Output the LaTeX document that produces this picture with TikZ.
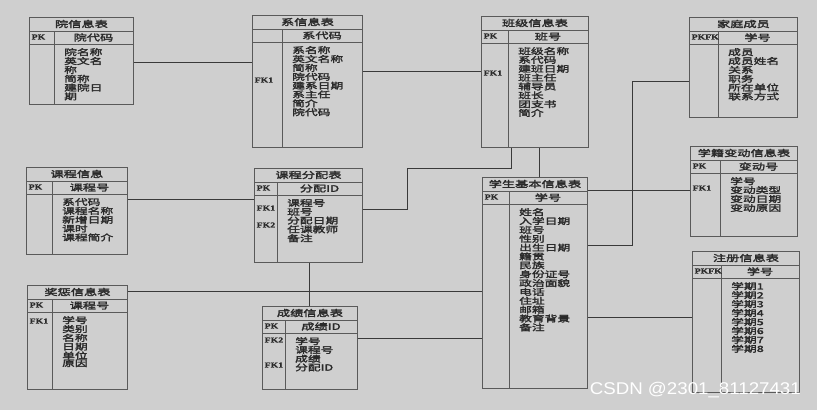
\documentclass[tikz,border=0pt]{standalone}
\usepackage{fontspec}
\setmainfont{Liberation Serif}
\newfontfamily\cjk{Noto Sans CJK SC}[FakeStretch=1.5,FakeBold=2.5]
\newfontfamily\lat{Liberation Serif}[FakeStretch=1.3,FakeBold=1.5]
\newfontfamily\wmfont{Liberation Sans}[FakeStretch=1.1]
\definecolor{bgc}{HTML}{CFCFCF}
\definecolor{boxc}{HTML}{5A5A5A}
\definecolor{linec}{HTML}{3A3A3A}
\definecolor{txtc}{HTML}{2A2A2A}
\tikzset{
  tbl/.style={draw=boxc, line width=0.9pt, rectangle, anchor=north west, inner sep=0pt},
  sep/.style={draw=boxc, line width=0.9pt},
  ttl/.style={font=\cjk\fontsize{8.8}{8.8}\selectfont, text=txtc, inner sep=0pt},
  fld/.style={font=\cjk\fontsize{8.5}{7.6}\selectfont, text=txtc, align=left, anchor=north west, inner sep=0pt},
  lbl/.style={font=\lat\bfseries\fontsize{7.5}{8}\selectfont, text=txtc, anchor=west, inner sep=0pt},
  ln/.style={draw=linec, line width=0.9pt},
  wm/.style={font=\wmfont\fontsize{17}{17}\selectfont, text=white, anchor=east, inner sep=0pt}
}
\newcommand\dbtable[9]{%
  \node[tbl, minimum width=#3pt, minimum height=#4pt] (#1) at (#2) {};
  \draw[sep] ([yshift=-14pt]#1.north west) -- ([yshift=-14pt]#1.north east);
  \draw[sep] ([yshift=-27pt]#1.north west) -- ([yshift=-27pt]#1.north east);
  \draw[sep] ([xshift=#5pt,yshift=-14pt]#1.north west) -- ([xshift=#5pt]#1.south west);
  \node[ttl] (#1-t) at ([yshift=-7pt]#1.north) {#6};
  \node[ttl] (#1-k) at ([xshift=#5pt/2+#3pt/2, yshift=-20.5pt]#1.north west) {#7};
  \foreach \l/\y in {#8}
    \node[lbl] (#1-\l) at ([xshift=2.5pt, yshift=-\y*1pt]#1.north west) {\l};
  \node[fld] (#1-f) at ([xshift=#5pt+10pt, yshift=-31pt]#1.north west) {#9};
}
\begin{document}
\begin{tikzpicture}[x=1pt, y=-1pt]
\fill[bgc] (0,0) rectangle (817,410);
\useasboundingbox (0,0) rectangle (817,410);

\dbtable{yuan}{29,17}{104}{87}{25}{院信息表}{院代码}{PK/20}
  {院名称\\英文名\\称\\简称\\建院日\\期}
\dbtable{xi}{252,15}{110}{132}{30}{系信息表}{系代码}{FK1/65}
  {系名称\\英文名称\\简称\\院代码\\建系日期\\系主任\\简介\\院代码}
\dbtable{banji}{481,16}{107}{131}{27}{班级信息表}{班号}{PK/20,FK1/57}
  {班级名称\\系代码\\建班日期\\班主任\\辅导员\\班长\\团支书\\简介}
\dbtable{jiating}{689,17}{108}{100}{29}{家庭成员}{学号}{PKFK/20}
  {成员\\成员姓名\\关系\\职务\\所在单位\\联系方式}
\dbtable{kecheng}{26,167}{101}{87}{26}{课程信息}{课程号}{PK/20}
  {系代码\\课程名称\\新增日期\\课时\\课程简介}
\dbtable{fenpei}{254,168}{108}{94}{23}{课程分配表}{分配ID}{PK/20,FK1/40,FK2/57}
  {课程号\\班号\\分配日期\\任课教师\\备注}
\dbtable{xuesheng}{482,177}{105}{211}{27}{学生基本信息表}{学号}{PK/20}
  {姓名\\入学日期\\班号\\性别\\出生日期\\籍贯\\民族\\身份证号\\政治面貌\\电话\\住址\\邮箱\\教育背景\\备注}
\dbtable{xueji}{690,146}{107}{90}{30}{学籍变动信息表}{变动号}{PK/20,FK1/42}
  {学号\\变动类型\\变动日期\\变动原因}
\dbtable{zhuce}{692,251}{107}{141}{29}{注册信息表}{学号}{PKFK/20}
  {学期1\\学期2\\学期3\\学期4\\学期5\\学期6\\学期7\\学期8}
\dbtable{jiangcheng}{27,285}{100}{104}{25}{奖惩信息表}{课程号}{PK/20,FK1/36}
  {学号\\类别\\名称\\日期\\单位\\原因}
\dbtable{chengji}{262,306}{95}{83}{23}{成绩信息表}{成绩ID}{PK/20,FK2/34,FK1/59}
  {学号\\课程号\\成绩\\分配ID}

\draw[ln] (yuan.east |- 0,62) -- (xi.west |- 0,62);
\draw[ln] (xi.east |- 0,71) -- (banji.west |- 0,71);
\draw[ln] (kecheng.east |- 0,199) -- (fenpei.west |- 0,199);
\draw[ln] (fenpei.east |- 0,209) -- (407,209) |- (511,168) -- (banji.south -| 511,0);
\draw[ln] (xuesheng.north -| 539,0) -- (banji.south -| 539,0);
\draw[ln] (fenpei.south -| 309,0) -- (chengji.north -| 309,0);
\draw[ln] (jiangcheng.east |- 0,291) -- (xuesheng.west |- 0,291);
\draw[ln] (chengji.east |- 0,338) -- (xuesheng.west |- 0,338);
\draw[ln] (xuesheng.east |- 0,190) -- (xueji.west |- 0,190);
\draw[ln] (xuesheng.east |- 0,245) -- (632,245) |- (jiating.west |- 0,81);
\draw[ln] (xuesheng.east |- 0,317) -- (zhuce.west |- 0,317);

\node[wm] (wm) at (801,390) {CSDN @2301\_81127431};
\end{tikzpicture}
\end{document}
